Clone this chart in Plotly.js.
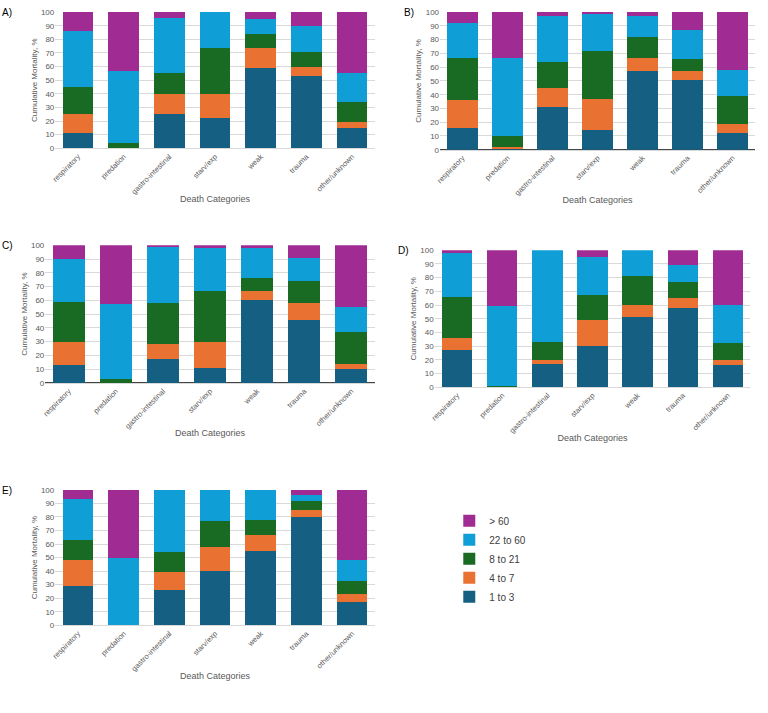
<!DOCTYPE html>
<html><head><meta charset="utf-8">
<script src="https://cdn.plot.ly/plotly-3.0.1.min.js"></script>
<style>body{margin:0}</style></head><body>
<div id="c" style="width:768px;height:713px"></div>
<script>
const categories = ["respiratory","predation","gastro-intestinal","starv/exp","weak","trauma","other/unknown"];
const groups = ["1 to 3","4 to 7","8 to 21","22 to 60","> 60"];
const colors = ["#156082","#e97132","#196b24","#0f9ed5","#a02b93"];
// cumulative tops per category: [1-3, 4-7, 8-21, 22-60, >60]
const panelA = [[11,25,45,86,100],[0,0,4,57,100],[25,40,55,96,100],[22,40,74,100,100],[59,74,84,95,100],[53,60,71,90,100],[15,19,34,55,100]];
const panelB = [[16,36,67,92,100],[1,2,10,67,100],[31,45,64,97,100],[14,37,72,99,100],[57,67,82,97,100],[51,57,66,87,100],[12,19,39,58,100]];
const panelC = [[13,30,59,90,100],[0,0,3,57,100],[17,28,58,99,100],[11,30,67,98,100],[60,67,76,98,100],[46,58,74,91,100],[10,14,37,55,100]];
const panelD = [[27,36,66,98,100],[0,0,1,59,100],[17,20,33,100,100],[30,49,67,95,100],[51,60,81,100,100],[58,65,77,89,100],[16,20,32,60,100]];
const panelE = [[29,48,63,93,100],[0,0,0,50,100],[26,39,54,100,100],[40,58,77,100,100],[55,67,78,100,100],[80,85,92,96,100],[17,23,33,48,100]];
const panels = [panelA,panelB,panelC,panelD,panelE];
const labels = ["A)","B)","C)","D)","E)"];
const doms = [
 {x:[0.072,0.488],y:[0.792,0.983]},
 {x:[0.573,0.983],y:[0.790,0.983]},
 {x:[0.059,0.488],y:[0.463,0.656]},
 {x:[0.566,0.977],y:[0.457,0.649]},
 {x:[0.072,0.488],y:[0.123,0.313]}];
const traces=[]; const layout={width:768,height:713,margin:{l:0,r:0,t:0,b:0},barmode:'stack',bargap:0.33,
 paper_bgcolor:'white',plot_bgcolor:'white',font:{family:'Liberation Sans, Arial',size:8,color:'#595959'},
 legend:{x:0.585,y:0.29,xanchor:'left',yanchor:'top',traceorder:'reversed',font:{size:10,color:'#404040'},itemwidth:30},
 annotations:[]};
panels.forEach((p,pi)=>{
 const n=pi+1, xa='x'+(n>1?n:''), ya='y'+(n>1?n:'');
 groups.forEach((g,gi)=>{
  traces.push({type:'bar',name:g,x:categories,y:p.map(r=>r[gi]-(gi>0?r[gi-1]:0)),
   marker:{color:colors[gi]},xaxis:xa,yaxis:ya,showlegend:pi===0,legendgroup:g,hoverinfo:'y'});
 });
 const xk='xaxis'+(n>1?n:''), yk='yaxis'+(n>1?n:'');
 layout[xk]={domain:doms[pi].x,anchor:ya,tickangle:-45,tickfont:{size:7.5,color:'#595959'},showline:true,linecolor:'#d9d9d9',
  title:{text:'Death Categories',font:{size:9,color:'#595959'},standoff:0}};
 layout[yk]={domain:doms[pi].y,anchor:xa,range:[0,100],dtick:10,gridcolor:'#d9d9d9',tickfont:{size:8,color:'#595959'},
  title:{text:'Cumulative Mortality, %',font:{size:8,color:'#595959'},standoff:2}};
 layout.annotations.push({text:labels[pi],xref:'paper',yref:'paper',x:(pi%2? doms[pi].x[0]-0.05:0.0),y:doms[pi].y[1]+0.01,
  xanchor:'left',yanchor:'top',showarrow:false,font:{size:10,color:'#000'}});
});
Plotly.newPlot('c',traces,layout,{displayModeBar:false});
</script></body></html>
